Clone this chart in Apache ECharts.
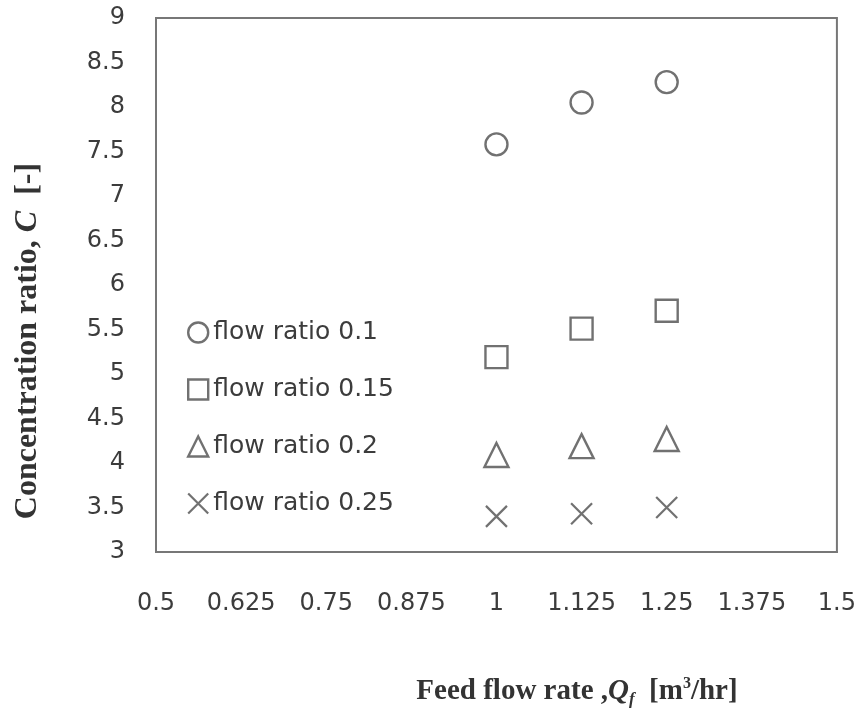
<!DOCTYPE html>
<html>
<head>
<meta charset="utf-8">
<script src="https://cdn.jsdelivr.net/npm/echarts@6/dist/echarts.min.js"></script>
<style>
  html, body { margin: 0; padding: 0; background: #fff; }
  #chart { width: 859px; height: 715px; }
</style>
</head>
<body>
<div id="chart"></div>
<script>
// Data
const feedFlow = [1, 1.125, 1.25];
const ratio010 = [7.58, 8.05, 8.28];
const ratio015 = [5.19, 5.51, 5.71];
const ratio020 = [4.09, 4.19, 4.27];
const ratio025 = [3.40, 3.43, 3.50];
const seriesNames = ['flow ratio 0.1', 'flow ratio 0.15', 'flow ratio 0.2', 'flow ratio 0.25'];

const markColor = '#4d4d4d';
const crossPath = 'path://M0,0L20,20M20,0L0,20';

const toPoints = ys => feedFlow.map((x, i) => [x, ys[i]]);

document.addEventListener('DOMContentLoaded', () => {
    const chart = echarts.init(document.getElementById('chart'));
    const hollow = { color: '#fff', borderColor: markColor, borderWidth: 2.4 };
    const crossStyle = { color: 'rgba(0,0,0,0)', borderColor: markColor, borderWidth: 2.2 };
    const tickFont = { fontFamily: 'DejaVu Sans', fontSize: 24, color: '#3c3c3c' };

    const option = {
        animation: false,
        backgroundColor: '#fff',
        grid: { left: 156, top: 18, right: 21, bottom: 163, show: true, borderColor: '#777', borderWidth: 2 },
        legend: {
            orient: 'vertical',
            left: 182,
            top: 315,
            itemWidth: 20,
            itemHeight: 20,
            itemGap: 32,
            textStyle: { fontFamily: 'DejaVu Sans', fontSize: 25, color: '#3c3c3c' },
            data: [
                { name: seriesNames[0], icon: 'circle', itemStyle: hollow },
                { name: seriesNames[1], icon: 'rect', itemStyle: hollow },
                { name: seriesNames[2], icon: 'triangle', itemStyle: hollow },
                { name: seriesNames[3], icon: crossPath, itemStyle: crossStyle }
            ]
        },
        xAxis: {
            type: 'value',
            min: 0.5,
            max: 1.5,
            interval: 0.125,
            axisLine: { show: true, lineStyle: { color: '#777', width: 2 } },
            axisTick: { show: false },
            splitLine: { show: false },
            axisLabel: Object.assign({ margin: 40 }, tickFont)
        },
        yAxis: {
            type: 'value',
            min: 3,
            max: 9,
            interval: 0.5,
            axisLine: { show: true, lineStyle: { color: '#777', width: 2 } },
            axisTick: { show: false },
            splitLine: { show: false },
            axisLabel: Object.assign({ margin: 31 }, tickFont)
        },
        series: [
            { name: seriesNames[0], type: 'scatter', symbol: 'circle', symbolSize: 22, itemStyle: hollow, data: toPoints(ratio010) },
            { name: seriesNames[1], type: 'scatter', symbol: 'rect', symbolSize: 22, itemStyle: hollow, data: toPoints(ratio015) },
            { name: seriesNames[2], type: 'scatter', symbol: 'triangle', symbolSize: 24, itemStyle: hollow, data: toPoints(ratio020) },
            { name: seriesNames[3], type: 'scatter', symbol: crossPath, symbolSize: 21, itemStyle: crossStyle, data: toPoints(ratio025) }
        ],
        graphic: [
            {
                type: 'text',
                x: 577,
                y: 692,
                style: {
                    text: '{b|Feed flow rate ,}{q|Q}{sub|f}{b|  [m}{sup|3}{b|/hr]}',
                    align: 'center',
                    verticalAlign: 'middle',
                    rich: {
                        b: { fontFamily: 'Liberation Serif', fontWeight: 'bold', fontSize: 29, fill: '#333' },
                        q: { fontFamily: 'Liberation Serif', fontWeight: 'bold', fontStyle: 'italic', fontSize: 29, fill: '#333' },
                        sub: { fontFamily: 'Liberation Serif', fontWeight: 'bold', fontStyle: 'italic', fontSize: 17, fill: '#333', verticalAlign: 'bottom', padding: [16, 0, 0, 0] },
                        sup: { fontFamily: 'Liberation Serif', fontWeight: 'bold', fontSize: 16, fill: '#333', verticalAlign: 'top', padding: [0, 0, 14, 0] }
                    }
                }
            },
            {
                type: 'text',
                x: 28,
                y: 341,
                rotation: Math.PI / 2,
                style: {
                    text: '{b|Concentration ratio, }{c|C}{b|  [-]}',
                    align: 'center',
                    verticalAlign: 'middle',
                    rich: {
                        b: { fontFamily: 'Liberation Serif', fontWeight: 'bold', fontSize: 32, fill: '#333' },
                        c: { fontFamily: 'Liberation Serif', fontWeight: 'bold', fontStyle: 'italic', fontSize: 32, fill: '#333' }
                    }
                }
            }
        ]
    };
    chart.setOption(option);

    window.addEventListener('resize', () => chart.resize());
});
</script>
</body>
</html>
